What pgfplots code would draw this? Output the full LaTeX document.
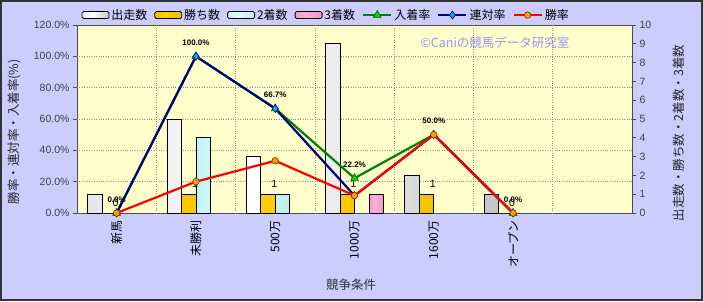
\documentclass[border=0pt]{standalone}
\usepackage{fontspec}
\setmainfont{Liberation Sans}
\newfontfamily\jp{Noto Sans CJK JP}
\usepackage{pgfplots}
\pgfplotsset{compat=1.18}
\pgfplotsset{/pgf/number format/assume math mode=true,
  linleg/.style={legend image code/.code={\draw[mark repeat=2,mark phase=2,##1] plot coordinates {(0pt,0pt) (14pt,0pt) (28pt,0pt)};}}}

\definecolor{outerbg}{RGB}{204,204,255}
\definecolor{plotbg}{RGB}{255,255,204}
\definecolor{gridc}{RGB}{140,140,140}
\definecolor{gold}{RGB}{255,206,0}
\definecolor{golddark}{RGB}{225,175,0}
\definecolor{cyanl}{RGB}{220,255,255}
\definecolor{cyand}{RGB}{165,225,225}
\definecolor{pinkl}{RGB}{255,175,218}
\definecolor{pinkd}{RGB}{230,130,180}
\definecolor{whitel}{RGB}{200,200,200}
\definecolor{whited}{RGB}{150,150,150}
\definecolor{lgreen}{RGB}{0,128,0}
\definecolor{mgreen}{RGB}{0,220,0}
\definecolor{navy}{RGB}{0,0,128}
\definecolor{orng}{RGB}{255,153,0}
\definecolor{wm}{RGB}{150,150,240}

\pgfdeclarehorizontalshading{wbar}{100bp}{color(0bp)=(whitel); color(45bp)=(white); color(100bp)=(whited)}
\pgfdeclarehorizontalshading{gbar}{100bp}{color(0bp)=(golddark); color(45bp)=(gold); color(100bp)=(golddark)}
\pgfdeclarehorizontalshading{cbar}{100bp}{color(0bp)=(cyand); color(45bp)=(cyanl); color(100bp)=(cyand)}
\pgfdeclarehorizontalshading{pbar}{100bp}{color(0bp)=(pinkd); color(45bp)=(pinkl); color(100bp)=(pinkd)}

\begin{document}
\begin{tikzpicture}
\useasboundingbox (0pt,0pt) rectangle (703pt,301pt);
\fill[outerbg] (0pt,0pt) rectangle (703pt,301pt);

% ---------- bars (right axis) ----------
\begin{axis}[
  at={(77pt,88pt)}, anchor=south west, scale only axis,
  width=555pt, height=188pt,
  xmin=-0.5, xmax=6.5, ymin=0, ymax=10,
  axis background/.style={fill=plotbg},
  axis line style={black!70, line width=0.8pt},
  xtick={0,...,5},
  xticklabels={新馬,未勝利,500万,1000万,1600万,オープン},
  xticklabel style={font=\jp\fontsize{12}{12}\selectfont, rotate=90, anchor=east, black},
  xtick style={draw=none},
  extra x ticks={0.5,1.5,2.5,3.5,4.5,5.5},
  extra x tick labels={},
  extra x tick style={grid=major, major tick length=0pt},
  ytick={0,...,10},
  ytick pos=right,
  yticklabel pos=right,
  ytick style={black!70, line width=0.8pt},
  tick align=outside, major tick length=4pt,
  yticklabel style={font=\fontsize{10.5}{12}\selectfont, black!75},
  extra y ticks={1.66667,3.33333,5,6.66667,8.33333},
  extra y tick labels={},
  extra y tick style={grid=major, major tick length=0pt},
  grid style={gridc, dotted, line width=0.6pt},
]
\addplot[ybar, bar width=14.5pt, bar shift=-21.75pt, draw=black, line width=0.7pt,
  shading=wbar, shading angle=0]
  coordinates {(0,1) (1,5) (2,3) (3,9) (4,2) (5,1)};
\addplot[ybar, bar width=14.5pt, bar shift=-7.25pt, draw=black, line width=0.7pt,
  shading=gbar, shading angle=0,
  nodes near coords,
  nodes near coords style={font=\fontsize{10.5}{12}\selectfont, text=black, yshift=3pt, xshift=-1pt}]
  coordinates {(0,0) (1,1) (2,1) (3,1) (4,1) (5,0)};
\addplot[ybar, bar width=14.5pt, bar shift=7.25pt, draw=black, line width=0.7pt,
  shading=cbar, shading angle=0]
  coordinates {(1,4) (2,1)};
\addplot[ybar, bar width=14.5pt, bar shift=21.75pt, draw=black, line width=0.7pt,
  shading=pbar, shading angle=0]
  coordinates {(3,1)};
\end{axis}

\node[text=wm, font=\jp\fontsize{12.5}{13}\selectfont] at (495pt,258pt) {©Caniの競馬データ研究室};

% ---------- rates (left axis) ----------
\begin{axis}[
  at={(77pt,88pt)}, anchor=south west, scale only axis,
  width=555pt, height=188pt,
  xmin=-0.5, xmax=6.5, ymin=0, ymax=120,
  hide x axis,
  axis y line*=left,
  y axis line style={draw=none},
  ytick={0,20,40,60,80,100,120},
  yticklabels={0.0\%,20.0\%,40.0\%,60.0\%,80.0\%,100.0\%,120.0\%},
  yticklabel style={font=\fontsize{10.5}{12}\selectfont, black!75},
  ytick style={black!70, line width=0.8pt},
  tick align=outside, major tick length=4pt,
  clip=false,
  legend style={at={(0.008,1.053)}, anchor=west, draw=none, fill=none,
    legend columns=-1, inner xsep=0pt, inner ysep=0pt,
    font=\jp\fontsize{12}{13}\selectfont,
    /tikz/every even column/.append style={column sep=5pt}},
]
\addlegendimage{legend image code/.code={\draw[rounded corners=1.5pt, line width=0.8pt, shading=wbar, shading angle=0] (0pt,-3.5pt) rectangle (27pt,3.5pt);}}
\addlegendentry{出走数}
\addlegendimage{legend image code/.code={\draw[rounded corners=1.5pt, line width=0.8pt, shading=gbar, shading angle=0] (0pt,-3.5pt) rectangle (27pt,3.5pt);}}
\addlegendentry{勝ち数}
\addlegendimage{legend image code/.code={\draw[rounded corners=1.5pt, line width=0.8pt, shading=cbar, shading angle=0] (0pt,-3.5pt) rectangle (27pt,3.5pt);}}
\addlegendentry{2着数}
\addlegendimage{legend image code/.code={\draw[rounded corners=1.5pt, line width=0.8pt, shading=pbar, shading angle=0] (0pt,-3.5pt) rectangle (27pt,3.5pt);}}
\addlegendentry{3着数}

\addplot[lgreen, line width=2.2pt, mark=triangle*, mark size=4.5pt,
  mark options={fill=mgreen, draw=lgreen!70!black, line width=0.6pt},
  linleg,
  nodes near coords={\pgfmathprintnumber[fixed,fixed zerofill,precision=1]{\pgfplotspointmeta}\%},
  nodes near coords style={font=\bfseries\fontsize{8}{9}\selectfont, text=black, anchor=south, yshift=7pt}]
  coordinates {(0,0) (1,100) (2,66.667) (3,22.222) (4,50) (5,0)};
\addlegendentry{入着率}
\addplot[navy, line width=2.2pt, mark=diamond*, mark size=4pt,
  mark options={fill=cyan, draw=navy, line width=0.6pt}, linleg]
  coordinates {(0,0) (1,100) (2,66.667) (3,11.111) (4,50) (5,0)};
\addlegendentry{連対率}
\addplot[red, line width=2.2pt, mark=*, mark size=3.3pt,
  mark options={fill=orng, draw=orng!40!black, line width=0.6pt}, linleg]
  coordinates {(0,0) (1,20) (2,33.333) (3,11.111) (4,50) (5,0)};
\addlegendentry{勝率}
\end{axis}

\node[rotate=90, font=\jp\fontsize{12.5}{13}\selectfont, text=black!85] at (14pt,169pt) {勝率・連対率・入着率(\%)};
\node[rotate=90, font=\jp\fontsize{12.5}{13}\selectfont, text=black!85] at (679pt,168pt) {出走数・勝ち数・2着数・3着数};
\node[font=\jp\fontsize{12.5}{13}\selectfont, text=black!80] at (351pt,16pt) {競争条件};

\draw[black!80, line width=2pt] (1pt,1pt) rectangle (702pt,300pt);
\end{tikzpicture}
\end{document}
